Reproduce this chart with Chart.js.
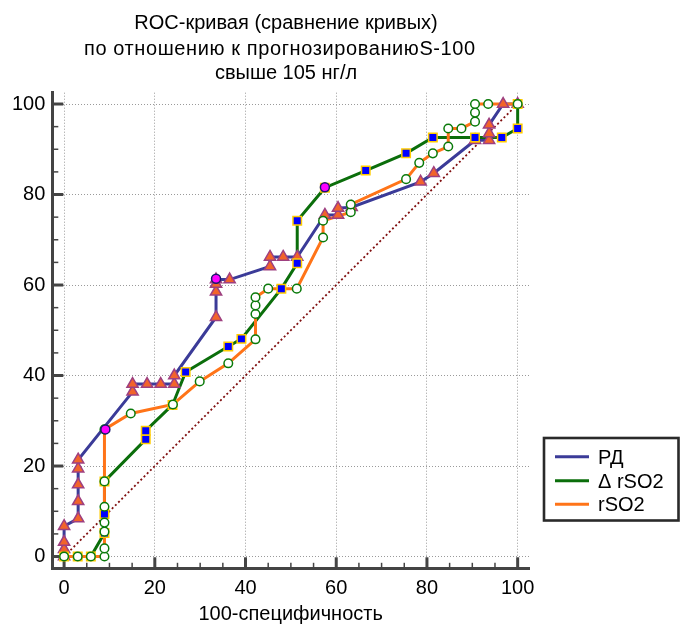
<!DOCTYPE html>
<html><head><meta charset="utf-8">
<script src="https://cdn.jsdelivr.net/npm/chart.js@4"></script>
<style>html,body{margin:0;padding:0;background:#fff}</style>
</head><body>
<canvas id="c" width="681" height="624"></canvas>
<script>
const titleLines = ['ROC-кривая (сравнение кривых)', 'по отношению к прогнозированиюS-100', 'свыше 105 нг/л'];
const xAxisTitle = '100-специфичность';
const seriesNames = ['РД', 'Δ rSO2', 'rSO2'];
const tickValues = [0, 20, 40, 60, 80, 100];
const minorTickValues = [5, 10, 15, 25, 30, 35, 45, 50, 55, 65, 70, 75, 85, 90, 95];

// РД
const rdX = [0, 0, 0, 0, 3.1, 3.1, 3.1, 3.1, 3.1, 15.1, 15.1, 18.3, 21.3, 24.3, 24.3, 33.5, 33.5, 33.5, 33.5, 36.5, 45.4, 45.4, 48.3, 51.4, 57.5, 60.4, 60.4, 63.4, 78.6, 81.5, 90.6, 93.7, 93.7, 93.7, 96.8, 100];
const rdY = [0, 1.6, 3.2, 6.7, 8.4, 12.2, 15.9, 19.4, 21.4, 36.4, 38.1, 38.1, 38.1, 38.1, 40.0, 52.9, 58.5, 60.2, 61.2, 61.2, 64.1, 66.2, 66.2, 66.2, 75.5, 75.5, 77.0, 77.2, 82.8, 84.7, 92.0, 92.0, 93.5, 95.4, 100, 100];
// Δ rSO2
const drX = [0, 3.0, 5.9, 8.9, 8.9, 8.9, 18.0, 18.0, 23.9, 26.8, 36.2, 39.1, 47.9, 51.4, 51.4, 57.5, 66.5, 75.4, 81.3, 90.6, 96.5, 100, 100];
const drY = [0, 0, 0, 5.2, 9.4, 16.6, 25.9, 27.8, 33.5, 40.8, 46.4, 48.1, 59.2, 64.8, 74.2, 81.5, 85.3, 89.1, 92.6, 92.6, 92.6, 94.6, 100];
// rSO2
const rsX = [0, 3.0, 5.9, 8.9, 8.9, 8.9, 8.9, 8.9, 8.9, 8.9, 14.7, 24.0, 29.9, 36.2, 42.2, 42.2, 42.2, 42.2, 45.0, 51.3, 57.1, 57.1, 63.2, 63.2, 75.4, 78.3, 81.3, 84.7, 84.7, 87.6, 90.6, 90.6, 90.6, 93.5, 100];
const rsY = [0, 0, 0, 0, 1.8, 5.5, 7.5, 11.0, 16.6, 28.1, 31.6, 33.6, 38.7, 42.7, 48.0, 53.6, 55.5, 57.3, 59.2, 59.2, 70.5, 74.2, 76.1, 77.8, 83.4, 87.0, 89.1, 90.6, 94.6, 94.6, 96.1, 98.1, 100, 100, 100];
// optimal criterion points
const optX = [33.5, 57.5, 9.1];
const optY = [61.4, 81.6, 28.1];
// reference diagonal
const diagX = [0, 100];
const diagY = [0, 100];

const pts = (xs, ys) => xs.map((x, i) => ({x: x, y: ys[i]}));
const lineColors = ['#3B3B98', '#0B6E0B', '#FF7418'];
const FONT = '"Liberation Sans", Arial, sans-serif';

const lineDs = (label, data, color, order, width, dash) => ({
  label, data, showLine: true, borderColor: color, borderWidth: width, borderDash: dash, tension: 0,
  pointRadius: 0, pointHoverRadius: 0, order, fill: false
});
const markDs = (label, data, style, r, bg, bc, order) => ({
  label, data, showLine: false, pointStyle: style, pointRadius: r, pointHoverRadius: r,
  pointBackgroundColor: bg, pointBorderColor: bc, pointBorderWidth: 1.5, order
});

const decor = {
  id: 'decor',
  beforeDatasetsDraw(chart) {
    const {ctx, chartArea: a} = chart;
    const xs = chart.scales.x, ys = chart.scales.y;
    ctx.save();
    ctx.strokeStyle = '#444';
    ctx.lineWidth = 3;
    tickValues.forEach(v => {
      const px = xs.getPixelForValue(v);
      ctx.beginPath(); ctx.moveTo(px, a.bottom); ctx.lineTo(px, a.bottom - 11); ctx.stroke();
      const py = ys.getPixelForValue(v);
      ctx.beginPath(); ctx.moveTo(a.left, py); ctx.lineTo(a.left + 11, py); ctx.stroke();
    });
    ctx.lineWidth = 1.5;
    minorTickValues.forEach(v => {
      const px = xs.getPixelForValue(v);
      ctx.beginPath(); ctx.moveTo(px, a.bottom); ctx.lineTo(px, a.bottom - 5.5); ctx.stroke();
      const py = ys.getPixelForValue(v);
      ctx.beginPath(); ctx.moveTo(a.left, py); ctx.lineTo(a.left + 6, py); ctx.stroke();
    });
    ctx.restore();
  },
  afterDraw(chart) {
    const ctx = chart.ctx;
    ctx.save();
    ctx.fillStyle = '#000';
    ctx.font = '20px ' + FONT;
    ctx.textBaseline = 'alphabetic';
    ctx.textAlign = 'center';
    ctx.fillText(titleLines[0], 286, 29.3);
    ctx.fillText(titleLines[2], 286, 78.6);
    ctx.textAlign = 'left';
    ctx.letterSpacing = '0.6px';
    ctx.fillText(titleLines[1], 84, 54.8);
    ctx.letterSpacing = '0px';
    // legend
    ctx.lineWidth = 2.6;
    ctx.strokeStyle = '#2a2a2a';
    ctx.strokeRect(544, 438, 134.5, 82.5);
    const ly = [456.7, 480.7, 504.3];
    seriesNames.forEach((n, i) => {
      ctx.strokeStyle = lineColors[i];
      ctx.lineWidth = 3;
      ctx.beginPath(); ctx.moveTo(555, ly[i]); ctx.lineTo(589, ly[i]); ctx.stroke();
      ctx.fillText(n, 598, ly[i] + 7);
    });
    ctx.restore();
  }
};

const tickFont = {family: FONT, size: 20};
new Chart(document.getElementById('c'), {
  type: 'scatter',
  data: {
    datasets: [
      lineDs('diag', pts(diagX, diagY), '#801010', 20, 1.8, [2, 2.5]),
      lineDs(seriesNames[0], pts(rdX, rdY), lineColors[0], 19, 3, []),
      lineDs(seriesNames[1], pts(drX, drY), lineColors[1], 18, 3, []),
      lineDs(seriesNames[2], pts(rsX, rsY), lineColors[2], 17, 3, []),
      markDs('m0', pts(rdX, rdY), 'triangle', 6.5, '#F2642A', '#9E4080', 6),
      markDs('m1', pts(drX, drY), 'rect', 6, '#0000FF', '#FFCC00', 5),
      markDs('m2', pts(rsX, rsY), 'circle', 4.3, '#FFFFFF', '#0A7A0A', 4),
      markDs('opt', pts(optX, optY), 'circle', 4.5, '#FF00FF', '#1A1A6A', 3)
    ]
  },
  options: {
    responsive: false,
    animation: false,
    events: [],
    layout: {padding: {top: 92.7, right: 152, bottom: 0, left: 0}},
    plugins: {legend: {display: false}, title: {display: false}, tooltip: {enabled: false}},
    scales: {
      x: {
        type: 'linear', min: -2.6, max: 102.5,
        afterBuildTicks: s => { s.ticks = tickValues.map(v => ({value: v})); },
        afterFit: s => { s.height = 55.7; },
        ticks: {font: tickFont, color: '#000', padding: 8, maxRotation: 0, autoSkip: false},
        grid: {color: '#9a9a9a', lineWidth: 1, drawTicks: false},
        border: {display: true, color: '#444', width: 3, dash: [1, 2]},
        title: {display: true, text: xAxisTitle, font: {family: FONT, size: 20, lineHeight: 1.0}, color: '#000', padding: {top: 0, bottom: 0}}
      },
      y: {
        type: 'linear', min: -2.6, max: 102.5,
        afterBuildTicks: s => { s.ticks = tickValues.map(v => ({value: v})); },
        afterFit: s => { s.width = 52.3; },
        ticks: {font: tickFont, color: '#000', padding: 7, autoSkip: false},
        grid: {color: '#9a9a9a', lineWidth: 1, drawTicks: false},
        border: {display: true, color: '#444', width: 3, dash: [1, 2]}
      }
    }
  },
  plugins: [decor]
});
</script>
</body></html>
